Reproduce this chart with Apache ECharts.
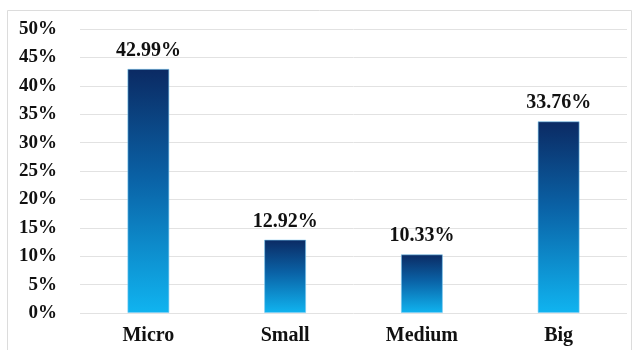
<!DOCTYPE html>
<html>
<head>
<meta charset="utf-8">
<script src="https://cdn.jsdelivr.net/npm/echarts@6/dist/echarts.min.js"></script>
<style>
  html, body { margin: 0; padding: 0; background: #fff; }
  #chart { width: 639px; height: 350px; }
</style>
</head>
<body>
<div id="chart"></div>
<script>
const categories = ["Micro", "Small", "Medium", "Big"];
const shares = [42.99, 12.92, 10.33, 33.76];
const yTicks = [0, 5, 10, 15, 20, 25, 30, 35, 40, 45, 50];

const serif = "'Liberation Serif', 'Times New Roman', serif";

const chart = echarts.init(document.getElementById("chart"));

const option = {
  backgroundColor: "#fff",
  animation: false,
  graphic: [
    {
      type: "rect",
      shape: { x: 7.5, y: 10.5, width: 624, height: 345 },
      style: { fill: "none", stroke: "#dcdcdc", lineWidth: 1 },
      silent: true,
    },
  ],
  grid: { left: 80, right: 12, top: 29, bottom: 37 },
  xAxis: {
    type: "category",
    data: categories,
    axisLine: { show: false },
    axisTick: { show: false },
    axisLabel: {
      margin: 13,
      fontFamily: serif,
      fontWeight: "bold",
      fontSize: 20,
      color: "#111",
    },
  },
  yAxis: {
    type: "value",
    min: yTicks[0],
    max: yTicks[yTicks.length - 1],
    interval: 5,
    axisLine: { show: false },
    axisTick: { show: false },
    splitLine: { lineStyle: { color: "#e2e2e2", width: 1 } },
    axisLabel: {
      margin: 23,
      fontFamily: serif,
      fontWeight: "bold",
      fontSize: 19,
      color: "#111",
      formatter: "{value}%",
    },
  },
  series: [
    {
      type: "bar",
      data: shares,
      barWidth: 42,
      itemStyle: {
        borderColor: "rgba(120,200,240,0.6)",
        borderWidth: 1,
        color: new echarts.graphic.LinearGradient(0, 0, 0, 1, [
          { offset: 0, color: "#0b2a63" },
          { offset: 0.45, color: "#0a62a6" },
          { offset: 1, color: "#10b4f0" },
        ]),
      },
      label: {
        show: true,
        position: "top",
        distance: 8,
        fontFamily: serif,
        fontWeight: "bold",
        fontSize: 20,
        color: "#111",
        formatter: (p) => p.value.toFixed(2) + "%",
      },
    },
  ],
};

chart.setOption(option);
</script>
</body>
</html>
